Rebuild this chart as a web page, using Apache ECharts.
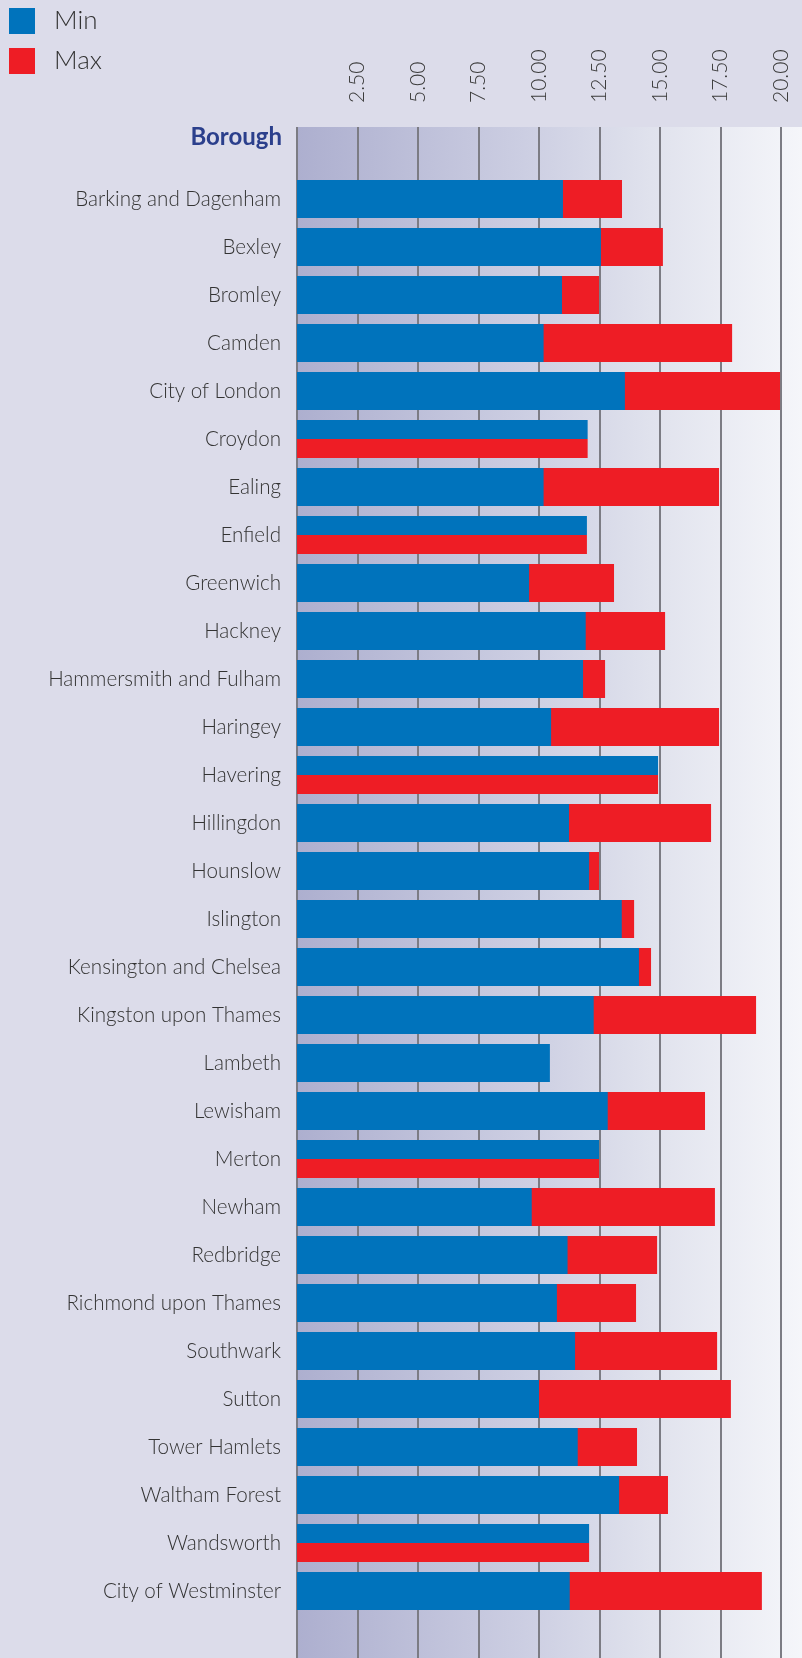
<!DOCTYPE html>
<html lang="en">
<head>
    <meta charset="UTF-8">
    <title>Borough min / max</title>
    <script src="https://cdn.jsdelivr.net/npm/echarts@6/dist/echarts.min.js"></script>
    <style type="text/css">
        *{
            padding: 0px;
            margin: 0px;
            border: 0px;
        }
        #chart{
            width: 802px;
            height: 1658px;
        }
    </style>
</head>
<body>
<div id="chart"></div>
<script>

    // boroughs, top to bottom
    var boroughs = ['Barking and Dagenham', 'Bexley', 'Bromley', 'Camden', 'City of London', 'Croydon',
        'Ealing', 'Enfield', 'Greenwich', 'Hackney', 'Hammersmith and Fulham', 'Haringey', 'Havering',
        'Hillingdon', 'Hounslow', 'Islington', 'Kensington and Chelsea', 'Kingston upon Thames', 'Lambeth',
        'Lewisham', 'Merton', 'Newham', 'Redbridge', 'Richmond upon Thames', 'Southwark', 'Sutton',
        'Tower Hamlets', 'Waltham Forest', 'Wandsworth', 'City of Westminster'];

    var minVals = [10.99, 12.56, 10.95, 10.19, 13.55, 12.01, 10.19, 11.98, 9.59, 11.93, 11.82, 10.50, 14.92,
        11.24, 12.07, 13.42, 14.13, 12.26, 10.45, 12.84, 12.48, 9.70, 11.18, 10.74, 11.49, 10.00,
        11.60, 13.31, 12.07, 11.27];

    // Lambeth has no max
    var maxVals = [13.43, 15.12, 12.48, 17.98, 19.96, 12.01, 17.44, 11.98, 13.10, 15.21, 12.73, 17.44, 14.92,
        17.11, 12.48, 13.93, 14.63, 18.97, null, 16.86, 12.48, 17.27, 14.88, 14.01, 17.36, 17.93,
        14.05, 15.33, 12.07, 19.21];

    var tickStep = 2.5;
    var axisMax = 20;

    var rows = boroughs.map(function (name, i) {
        return [i, minVals[i], maxVals[i] == null ? '-' : maxVals[i]];
    });

    // one bar per series; when min == max the two share the row, blue on top, red below
    function makeRender(which) {
        return function (params, api) {
            var i = api.value(0);
            var lo = api.value(1);
            var hi = api.value(2);
            var v = which === 'min' ? lo : hi;
            if (isNaN(v)) return;
            var start = api.coord([0, i]);
            var end = api.coord([v, i]);
            var h = api.size([0, 1])[1] * 0.79;
            var top = start[1] - h / 2;
            if (lo === hi) {
                h = h / 2;
                if (which === 'max') top += h;
            }
            return {
                type: 'rect',
                shape: {x: start[0], y: top, width: end[0] - start[0], height: h},
                style: api.style()
            };
        };
    }

    var font = 'Lato, "Open Sans", sans-serif';

    var option = {
        backgroundColor: '#dcdcea',
        animation: false,
        legend: {
            orient: 'vertical',
            left: 9,
            top: 8,
            padding: 0,
            itemWidth: 26,
            itemHeight: 26,
            itemGap: 14,
            selectedMode: false,
            data: [{name: 'Min', icon: 'rect'}, {name: 'Max', icon: 'rect'}],
            textStyle: {
                fontFamily: font,
                fontWeight: 300,
                fontSize: 26,
                lineHeight: 26,
                color: '#333',
                padding: [0, 0, 0, 14]
            }
        },
        graphic: [
            {
                type: 'rect',
                z: -10,
                shape: {x: 297, y: 127, width: 505, height: 1531},
                style: {
                    fill: new echarts.graphic.LinearGradient(0, 0, 1, 0, [
                        {offset: 0, color: '#adafcf'},
                        {offset: 0.45, color: '#cccee2'},
                        {offset: 0.7, color: '#e0e2ed'},
                        {offset: 1, color: '#f5f6fa'}
                    ])
                }
            },
            {
                type: 'text',
                x: 282,
                y: 137,
                style: {
                    text: 'Borough',
                    align: 'right',
                    verticalAlign: 'middle',
                    fontFamily: font,
                    fontWeight: 'bold',
                    fontSize: 24,
                    fill: '#2b3f8c'
                }
            }
        ],
        grid: [
            // full height grid for the vertical lines and top labels
            {left: 297, right: 21, top: 127, bottom: 0},
            // bars
            {left: 297, right: 21, top: 175, bottom: 43}
        ],
        xAxis: [
            {
                gridIndex: 0,
                type: 'value',
                position: 'top',
                min: 0,
                max: axisMax,
                interval: tickStep,
                axisLine: {show: false},
                axisTick: {show: false},
                splitLine: {lineStyle: {color: '#7c7c84', width: 2}},
                axisLabel: {
                    rotate: 90,
                    margin: 24,
                    padding: [12, 0, 0, 0],
                    fontFamily: font,
                    fontWeight: 300,
                    fontSize: 21,
                    color: '#3a3a3a',
                    formatter: function (v) {
                        return v === 0 ? '' : v.toFixed(2);
                    }
                }
            },
            {
                gridIndex: 1,
                type: 'value',
                min: 0,
                max: axisMax,
                show: false
            }
        ],
        yAxis: [
            {gridIndex: 0, type: 'value', show: false},
            {
                gridIndex: 1,
                type: 'category',
                inverse: true,
                data: boroughs,
                axisLine: {show: false},
                axisTick: {show: false},
                axisLabel: {
                    margin: 16,
                    fontFamily: font,
                    fontWeight: 300,
                    fontSize: 20.6,
                    color: '#333'
                }
            }
        ],
        series: [
            {
                name: 'Max',
                type: 'custom',
                xAxisIndex: 1,
                yAxisIndex: 1,
                itemStyle: {color: '#ee1d25'},
                encode: {x: [1, 2], y: 0},
                renderItem: makeRender('max'),
                data: rows
            },
            {
                name: 'Min',
                type: 'custom',
                xAxisIndex: 1,
                yAxisIndex: 1,
                itemStyle: {color: '#0073bc'},
                encode: {x: [1, 2], y: 0},
                renderItem: makeRender('min'),
                data: rows
            }
        ]
    };

    var chart = echarts.init(document.getElementById('chart'));
    chart.setOption(option);

</script>
</body>
</html>
